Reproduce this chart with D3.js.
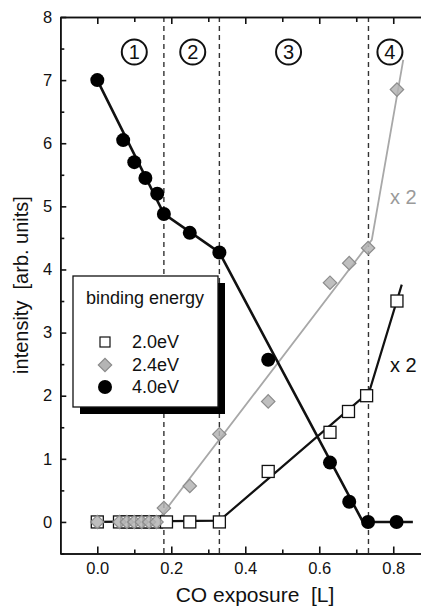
<!DOCTYPE html>
<html lang="en">
<head>
<meta charset="utf-8" />
<title>CO exposure</title>
<script src="https://d3js.org/d3.v7.min.js"></script>
<style>
    body { margin: 0; background: #fff; }
    svg { display: block; font-family: "Liberation Sans", Arial, sans-serif; }
    .axis text { font-size: 16.5px; fill: #111; }
    .axis path, .axis line { stroke: #111; stroke-width: 1.6px; }
</style>
</head>
<body>
<svg width="421" height="608"></svg>
<script>
    // measured points, binding energy 2.0 eV (open squares)
    var exposure20 = [0, 0.06, 0.08, 0.1, 0.12, 0.14, 0.16, 0.187, 0.25, 0.33, 0.462, 0.629, 0.679, 0.728, 0.81];
    var intensity20 = [0, 0, 0, 0, 0, 0, 0, 0, 0, 0, 0.8, 1.42, 1.75, 2.0, 3.5];
    // 2.4 eV (grey diamonds)
    var exposure24 = [0, 0.06, 0.08, 0.1, 0.12, 0.14, 0.16, 0.18, 0.25, 0.33, 0.462, 0.629, 0.681, 0.732, 0.81];
    var intensity24 = [0, 0, 0, 0, 0, 0, 0, 0.22, 0.57, 1.39, 1.91, 3.79, 4.1, 4.34, 6.85];
    // 4.0 eV (filled circles)
    var exposure40 = [0, 0.07, 0.1, 0.13, 0.162, 0.18, 0.25, 0.33, 0.462, 0.629, 0.681, 0.732, 0.809];
    var intensity40 = [7.0, 6.05, 5.7, 5.45, 5.2, 4.88, 4.58, 4.27, 2.57, 0.94, 0.32, 0, 0];

    // piecewise fit lines
    var fit20x = [0, 0.33, 0.735, 0.823];
    var fit20y = [0, 0.02, 2.06, 3.76];
    var fit24x = [0, 0.16, 0.742, 0.827];
    var fit24y = [0, 0, 4.47, 7.32];
    var fit40x = [0, 0.18, 0.33, 0.718, 0.853];
    var fit40y = [7.0, 4.88, 4.27, 0, 0];

    // regime boundaries and labels
    var boundaries = [0.18, 0.33, 0.733];
    var regimeLabels = ["1", "2", "3", "4"];
    var regimeCenters = [0.1, 0.258, 0.517, 0.791];

    var xTicks = [0, 0.2, 0.4, 0.6, 0.8];
    var xMinor = [0.1, 0.3, 0.5, 0.7];
    var yTicks = [0, 1, 2, 3, 4, 5, 6, 7, 8];
    var yMinor = [-0.5, 0.5, 1.5, 2.5, 3.5, 4.5, 5.5, 6.5, 7.5];

    var legendLabels = ["2.0eV", "2.4eV", "4.0eV"];

    var svg = d3.select("svg");
    var pLeft = 60.3, pRight = 421, pTop = 17, pBottom = 553.5;

    var x = d3.scaleLinear().domain([-0.1, 0.875]).range([pLeft, pRight]);
    var y = d3.scaleLinear().domain([-0.5, 8]).range([pBottom, pTop]);

    function zip(a, b) { return a.map(function (d, i) { return [d, b[i]]; }); }

    // dashed boundaries
    svg.append("g").selectAll("line")
        .data(boundaries)
        .enter().append("line")
        .attr("x1", function (d) { return x(d); })
        .attr("x2", function (d) { return x(d); })
        .attr("y1", pTop)
        .attr("y2", pBottom)
        .attr("stroke", "#333")
        .attr("stroke-width", 1.4)
        .attr("stroke-dasharray", "5,4");

    // axes
    svg.append("g").attr("class", "axis")
        .attr("transform", "translate(0," + pBottom + ")")
        .call(d3.axisBottom(x).tickValues(xTicks).tickFormat(d3.format(".1f"))
            .tickSizeInner(-7).tickSizeOuter(0).tickPadding(9));
    svg.append("g").attr("class", "axis")
        .attr("transform", "translate(0," + pBottom + ")")
        .call(d3.axisBottom(x).tickValues(xMinor).tickFormat("").tickSizeInner(-4).tickSizeOuter(0));

    svg.append("g").attr("class", "axis")
        .attr("transform", "translate(0," + pTop + ")")
        .call(d3.axisTop(x).tickValues(xTicks).tickFormat("").tickSizeInner(-7).tickSizeOuter(0));
    svg.append("g").attr("class", "axis")
        .attr("transform", "translate(0," + pTop + ")")
        .call(d3.axisTop(x).tickValues(xMinor).tickFormat("").tickSizeInner(-5).tickSizeOuter(0));

    svg.append("g").attr("class", "axis")
        .attr("transform", "translate(" + pLeft + ",0)")
        .call(d3.axisLeft(y).tickValues(yTicks).tickFormat(d3.format("d"))
            .tickSizeInner(-6).tickSizeOuter(0).tickPadding(8));
    svg.append("g").attr("class", "axis")
        .attr("transform", "translate(" + pLeft + ",0)")
        .call(d3.axisLeft(y).tickValues(yMinor).tickFormat("").tickSizeInner(-4).tickSizeOuter(0));

    // axis titles
    svg.append("text")
        .attr("x", 255)
        .attr("y", 602)
        .attr("text-anchor", "middle")
        .attr("font-size", 21)
        .attr("fill", "#111")
        .style("white-space", "pre")
        .text("CO exposure  [L]");

    svg.append("text")
        .attr("transform", "translate(28,285) rotate(-90)")
        .attr("text-anchor", "middle")
        .attr("font-size", 20)
        .attr("fill", "#111")
        .style("white-space", "pre")
        .text("intensity  [arb. units]");

    // circled regime numbers
    var reg = svg.append("g").selectAll("g")
        .data(regimeLabels)
        .enter().append("g")
        .attr("transform", function (d, i) { return "translate(" + x(regimeCenters[i]) + ",52)"; });
    reg.append("circle")
        .attr("r", 12.5)
        .attr("fill", "none")
        .attr("stroke", "#111")
        .attr("stroke-width", 2);
    reg.append("text")
        .attr("text-anchor", "middle")
        .attr("dy", "0.36em")
        .attr("font-size", 20)
        .attr("fill", "#111")
        .text(function (d) { return d; });

    // fit lines
    var line = d3.line().x(function (d) { return x(d[0]); }).y(function (d) { return y(d[1]); });

    svg.append("path")
        .datum(zip(fit24x, fit24y))
        .attr("d", line)
        .attr("fill", "none")
        .attr("stroke", "#a8a8a8")
        .attr("stroke-width", 1.8);
    svg.append("path")
        .datum(zip(fit20x, fit20y))
        .attr("d", line)
        .attr("fill", "none")
        .attr("stroke", "#111")
        .attr("stroke-width", 2.2);
    svg.append("path")
        .datum(zip(fit40x, fit40y))
        .attr("d", line)
        .attr("fill", "none")
        .attr("stroke", "#111")
        .attr("stroke-width", 2.6);

    // markers
    var diamond = d3.symbol().type(d3.symbolSquare).size(90);

    svg.append("g").selectAll("rect")
        .data(zip(exposure20, intensity20))
        .enter().append("rect")
        .attr("x", function (d) { return x(d[0]) - 6; })
        .attr("y", function (d) { return y(d[1]) - 6; })
        .attr("width", 12)
        .attr("height", 12)
        .attr("fill", "#fff")
        .attr("stroke", "#111")
        .attr("stroke-width", 1.3);

    svg.append("g").selectAll("path")
        .data(zip(exposure24, intensity24))
        .enter().append("path")
        .attr("d", diamond)
        .attr("transform", function (d) { return "translate(" + x(d[0]) + "," + y(d[1]) + ") rotate(45)"; })
        .attr("fill", "#b4b4b4")
        .attr("fill-opacity", 0.85)
        .attr("stroke", "#8c8c8c")
        .attr("stroke-width", 1.2);

    svg.append("g").selectAll("circle")
        .data(zip(exposure40, intensity40))
        .enter().append("circle")
        .attr("cx", function (d) { return x(d[0]); })
        .attr("cy", function (d) { return y(d[1]); })
        .attr("r", 7)
        .attr("fill", "#000");

    // scaling notes
    svg.append("text").attr("x", 390).attr("y", 204)
        .attr("font-size", 20).attr("fill", "#9a9a9a").text("x 2");
    svg.append("text").attr("x", 390).attr("y", 372)
        .attr("font-size", 20).attr("fill", "#111").text("x 2");

    // legend with drop shadow
    var lg = svg.append("g").attr("transform", "translate(73,276)");
    lg.append("rect").attr("x", 7).attr("y", 7).attr("width", 145).attr("height", 131).attr("fill", "#000");
    lg.append("rect").attr("width", 145).attr("height", 131)
        .attr("fill", "#fff").attr("stroke", "#111").attr("stroke-width", 1.3);
    lg.append("text").attr("x", 13).attr("y", 28)
        .attr("font-size", 18).attr("fill", "#111").text("binding energy");

    var rowY = [66, 89, 111];
    var rows = lg.selectAll("g.row")
        .data(legendLabels)
        .enter().append("g")
        .attr("class", "row")
        .attr("transform", function (d, i) { return "translate(32," + rowY[i] + ")"; });
    rows.append("text")
        .attr("x", 27)
        .attr("dy", "0.36em")
        .attr("font-size", 18)
        .attr("fill", "#111")
        .text(function (d) { return d; });
    rows.filter(function (d, i) { return i === 0; }).append("rect")
        .attr("x", -5).attr("y", -5).attr("width", 10).attr("height", 10)
        .attr("fill", "#fff").attr("stroke", "#111").attr("stroke-width", 1.2);
    rows.filter(function (d, i) { return i === 1; }).append("path")
        .attr("d", diamond)
        .attr("transform", "rotate(45)")
        .attr("fill", "#b4b4b4").attr("stroke", "#8c8c8c").attr("stroke-width", 1.2);
    rows.filter(function (d, i) { return i === 2; }).append("circle")
        .attr("r", 7).attr("fill", "#000");
</script>
</body>
</html>
